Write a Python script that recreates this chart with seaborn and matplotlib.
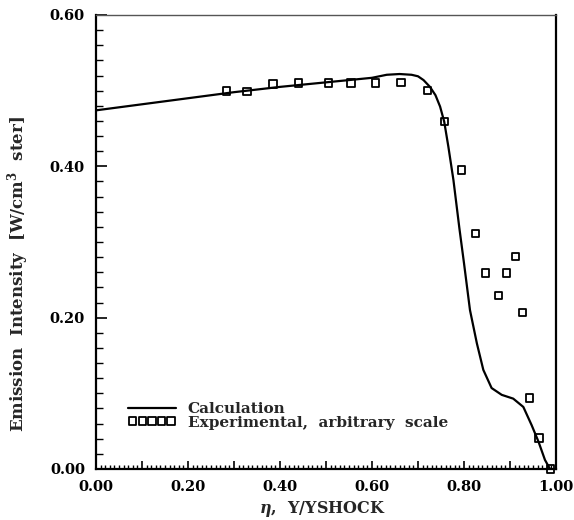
import numpy as np
import pandas as pd
import matplotlib
matplotlib.use("Agg")
import matplotlib.pyplot as plt
from matplotlib.ticker import MultipleLocator, FuncFormatter
import seaborn as sns

# Calculation curve
calc_x = [0.0, 0.1, 0.2, 0.3, 0.4, 0.5, 0.6, 0.632, 0.66, 0.686, 0.70, 0.712, 0.726,
          0.738, 0.748, 0.757, 0.766, 0.777, 0.79, 0.80, 0.813, 0.828, 0.842, 0.86,
          0.882, 0.907, 0.929, 0.947, 0.962, 0.976, 0.987]
calc_y = [0.474, 0.482, 0.490, 0.498, 0.505, 0.511, 0.517, 0.521, 0.522, 0.521, 0.519,
          0.514, 0.505, 0.494, 0.479, 0.459, 0.426, 0.382, 0.318, 0.272, 0.210, 0.166,
          0.131, 0.107, 0.098, 0.093, 0.082, 0.058, 0.036, 0.012, 0.0]

# Experimental points
exp_x = [0.284, 0.328, 0.385, 0.440, 0.505, 0.554, 0.607, 0.663, 0.720, 0.757, 0.794,
         0.825, 0.847, 0.875, 0.893, 0.912, 0.927, 0.943, 0.963, 0.988]
exp_y = [0.4995, 0.499, 0.509, 0.510, 0.510, 0.510, 0.510, 0.5105, 0.500, 0.459, 0.395,
         0.311, 0.259, 0.229, 0.259, 0.281, 0.207, 0.094, 0.041, 0.0]

xlabel = r"$\eta$,  Y/YSHOCK"
ylabel = r"Emission  Intensity  [W/cm$^{\mathbf{3}}$  ster]"
calc_label = "Calculation"
exp_label = "Experimental,  arbitrary  scale"

sns.set_theme(style="ticks")
plt.rcParams["font.family"] = ["DejaVu Serif"]
plt.rcParams["font.weight"] = "bold"
plt.rcParams["mathtext.fontset"] = "dejavuserif"

fig = plt.figure(figsize=(5.74, 5.20), dpi=100)
ax = fig.add_axes([96/574, 51/520, 460/574, 454/520])

calc_df = pd.DataFrame({"x": calc_x, "y": calc_y})
exp_df = pd.DataFrame({"x": exp_x, "y": exp_y})

sns.lineplot(data=calc_df, x="x", y="y", ax=ax, color="black", linewidth=1.6,
             estimator=None, sort=False, label=calc_label)
sns.scatterplot(data=exp_df, x="x", y="y", ax=ax, marker="s", s=28,
                facecolor="none", edgecolor="black", linewidth=1.3,
                label=exp_label, clip_on=False, zorder=3)

ax.set_xlim(0, 1.0)
ax.set_ylim(0, 0.6)

ax.xaxis.set_major_locator(MultipleLocator(0.1))
ax.xaxis.set_minor_locator(MultipleLocator(0.01))
ax.xaxis.set_major_formatter(FuncFormatter(
    lambda v, p: f"{v:.2f}" if round(v * 10) % 2 == 0 else ""))
ax.yaxis.set_major_locator(MultipleLocator(0.2))
ax.yaxis.set_minor_locator(MultipleLocator(0.02))
ax.yaxis.set_major_formatter(FuncFormatter(lambda v, p: f"{v:.2f}"))

ax.tick_params(axis="both", which="both", direction="in", color="black",
               labelsize=10.5, labelcolor="black")
ax.tick_params(axis="x", which="major", length=6, width=1.2, pad=8)
ax.tick_params(axis="x", which="minor", length=3, width=1.0)
ax.tick_params(axis="y", which="major", length=8, width=1.2, pad=8)
ax.tick_params(axis="y", which="minor", length=5, width=1.0)
for lab in ax.get_xticklabels() + ax.get_yticklabels():
    lab.set_fontweight("bold")

for side, sp in ax.spines.items():
    sp.set_visible(True)
    sp.set_color("black")
    sp.set_linewidth(1.6)
ax.spines["top"].set_linewidth(1.0)
ax.spines["top"].set_color("#555555")

ax.set_xlabel(xlabel, fontsize=11.5, fontweight="bold")
ax.set_ylabel(ylabel, fontsize=12, fontweight="bold")
ax.xaxis.set_label_coords(0.492, -0.088)
ax.yaxis.set_label_coords(-0.17, 0.43)
ax.xaxis.label.set_va("center")
ax.yaxis.label.set_va("center")

leg = ax.legend(loc="center left", bbox_to_anchor=(0.07, 0.117), frameon=False,
                scatterpoints=5, scatteryoffsets=[0.5], handlelength=3.1,
                handletextpad=0.8, labelspacing=-0.05, borderpad=0, borderaxespad=0,
                prop={"family": "DejaVu Serif", "weight": "bold", "size": 11})

ax.grid(False)
fig.savefig("out.png", dpi=100, facecolor="white")
